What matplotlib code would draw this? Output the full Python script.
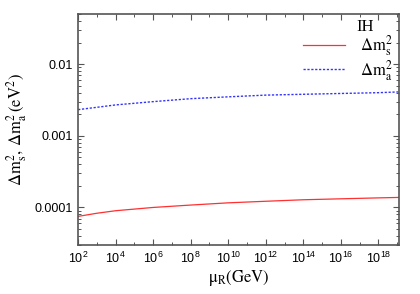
import numpy as np
import matplotlib
matplotlib.use("Agg")
import matplotlib.pyplot as plt
from matplotlib.ticker import LogLocator, FixedLocator, NullFormatter

# values
mu_r = [1e2, 1e3, 1e4, 1e6, 1e8, 1e10, 1e12, 1e14, 1e16, 1e18, 1.26e19]
dm2_sol = [7.5e-5, 8.3e-5, 9.0e-5, 1.0e-4, 1.08e-4, 1.16e-4, 1.22e-4, 1.28e-4, 1.32e-4, 1.36e-4, 1.38e-4]
dm2_atm = [0.00232, 0.0025, 0.0027, 0.0030, 0.0033, 0.0035, 0.0037, 0.0038, 0.0039, 0.0040, 0.0041]

xticks = [1e2, 1e4, 1e6, 1e8, 1e10, 1e12, 1e14, 1e16, 1e18]
xticklabels = [r"$\mathregular{10^{%d}}$" % int(np.log10(v)) for v in xticks]
yticks = [1e-4, 1e-3, 1e-2]
yticklabels = ["0.0001", "0.001", "0.01"]

plt.rcParams['mathtext.fontset'] = 'stix'
plt.rcParams['font.family'] = 'Liberation Sans'

fig = plt.figure(figsize=(4.2, 2.94), dpi=100)
ax = fig.add_axes([0.186, 0.167, 0.764, 0.785])

ax.plot(mu_r, dm2_sol, color='#ff3030', lw=0.9, label=r'$\mathrm{\Delta m_s^2}$')
ax.plot(mu_r, dm2_atm, color='#3333ff', lw=1.0, linestyle=(0, (1.6, 1.2)),
        label=r'$\mathrm{\Delta m_a^2}$')

ax.set_xscale('log')
ax.set_yscale('log')
ax.set_xlim(1e2, 1.26e19)
ax.set_ylim(3.0e-5, 0.05)

ax.xaxis.set_major_locator(FixedLocator(xticks))
ax.set_xticklabels(xticklabels)
ax.xaxis.set_minor_locator(FixedLocator([10.0 ** k for k in range(3, 20, 2)]))
ax.xaxis.set_minor_formatter(NullFormatter())
ax.set_yticks(yticks)
ax.set_yticklabels(yticklabels)
ax.yaxis.set_minor_locator(LogLocator(base=10, subs=np.arange(2, 10)))
ax.yaxis.set_minor_formatter(NullFormatter())

ax.tick_params(which='both', direction='in', top=True, right=True, color='#555555',
               labelsize=9, pad=4)
ax.tick_params(which='major', length=4, width=0.8)
ax.tick_params(which='minor', length=2.5, width=0.7)
for sp in ax.spines.values():
    sp.set_color('#555555')
    sp.set_linewidth(1.2)

ax.set_xlabel(r'$\mathrm{\mu_R(GeV)}$', fontsize=12, labelpad=2)
ax.set_ylabel(r'$\mathrm{\Delta m_s^2,\,\Delta m_a^2\,(eV^2)}$', fontsize=12, labelpad=4)

ax.text(0.868, 0.945, 'IH', transform=ax.transAxes, fontsize=12, family='Liberation Serif',
        ha='left', va='center')
leg = ax.legend(loc='upper left', bbox_to_anchor=(0.68, 0.947), frameon=False, fontsize=12,
                handlelength=2.5, handletextpad=0.9, labelspacing=0.0, borderpad=0.4,
                borderaxespad=0.0)

fig.savefig('out.png', dpi=100)
